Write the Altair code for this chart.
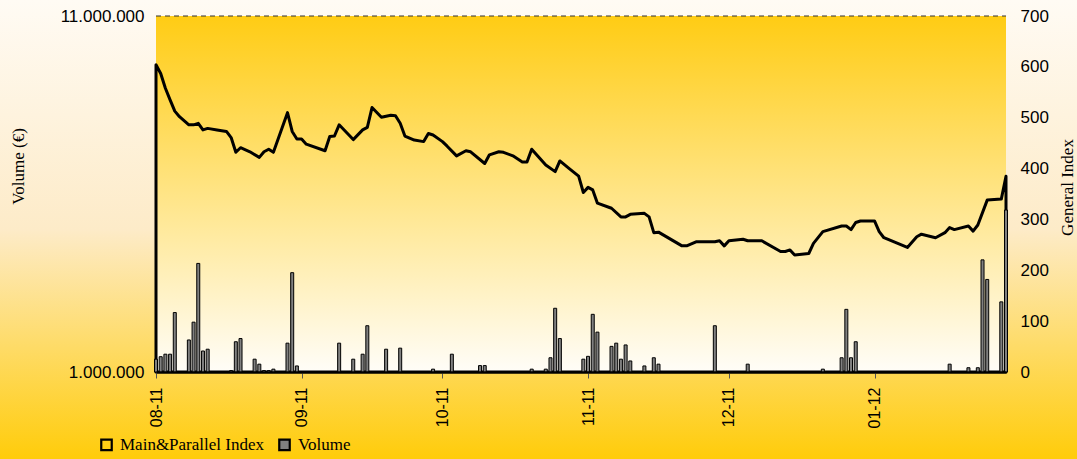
import altair as alt
import pandas as pd

# ---- data ----
index_dates = [
    "2011-08-01", "2011-08-02", "2011-08-03", "2011-08-04", "2011-08-05", "2011-08-06",
    "2011-08-08", "2011-08-09", "2011-08-10", "2011-08-11", "2011-08-12", "2011-08-14",
    "2011-08-16", "2011-08-17", "2011-08-18", "2011-08-19", "2011-08-21", "2011-08-23",
    "2011-08-24", "2011-08-25", "2011-08-26", "2011-08-29", "2011-08-30", "2011-08-31",
    "2011-09-01", "2011-09-02", "2011-09-06", "2011-09-07", "2011-09-08", "2011-09-09",
    "2011-09-12", "2011-09-14", "2011-09-15", "2011-09-16", "2011-09-18", "2011-09-20",
    "2011-09-21", "2011-09-22", "2011-09-23", "2011-09-25", "2011-09-27", "2011-09-28",
    "2011-09-29", "2011-10-01", "2011-10-02", "2011-10-04", "2011-10-06", "2011-10-07",
    "2011-10-10", "2011-10-11", "2011-10-13", "2011-10-14", "2011-10-16", "2011-10-18",
    "2011-10-19", "2011-10-20", "2011-10-23", "2011-10-25", "2011-10-26", "2011-10-28",
    "2011-10-30", "2011-10-31", "2011-11-01", "2011-11-02", "2011-11-03", "2011-11-06",
    "2011-11-08", "2011-11-09", "2011-11-10", "2011-11-13", "2011-11-14", "2011-11-15",
    "2011-11-16", "2011-11-21", "2011-11-22", "2011-11-24", "2011-11-28", "2011-11-29",
    "2011-11-30", "2011-12-01", "2011-12-04", "2011-12-05", "2011-12-08", "2011-12-12",
    "2011-12-13", "2011-12-14", "2011-12-15", "2011-12-18", "2011-12-19", "2011-12-21",
    "2011-12-25", "2011-12-26", "2011-12-27", "2011-12-28", "2011-12-29", "2012-01-01",
    "2012-01-02", "2012-01-03", "2012-01-08", "2012-01-10", "2012-01-11", "2012-01-14",
    "2012-01-16", "2012-01-17", "2012-01-18", "2012-01-21", "2012-01-22", "2012-01-23",
    "2012-01-25", "2012-01-28", "2012-01-29",
]
index_values = [
    604, 587, 558, 535, 513, 502,
    486, 486, 489, 476, 479, 476,
    473, 461, 432, 441, 433, 422,
    433, 438, 432, 510, 473, 458,
    458, 448, 435, 463, 464, 486,
    457, 476, 481, 520, 501, 505,
    504, 489, 464, 456, 453, 469,
    466, 453, 444, 425, 435, 433,
    410, 427, 433, 432, 425, 413,
    413, 438, 407, 394, 415, 400,
    385, 353, 363, 358, 332, 322,
    305, 305, 310, 312, 305, 274,
    275, 248, 248, 256, 256, 258,
    248, 258, 261, 258, 258, 237,
    237, 240, 230, 233, 253, 276,
    287, 287, 280, 294, 297, 297,
    276, 264, 245, 266, 271, 264,
    274, 284, 280, 287, 277, 289,
    338, 340, 385,
]

volume_dates = [
    "2011-08-01", "2011-08-02", "2011-08-03", "2011-08-04", "2011-08-05", "2011-08-08",
    "2011-08-09", "2011-08-10", "2011-08-11", "2011-08-12", "2011-08-17", "2011-08-18",
    "2011-08-19", "2011-08-22", "2011-08-23", "2011-08-24", "2011-08-25", "2011-08-26",
    "2011-08-29", "2011-08-30", "2011-08-31", "2011-09-09", "2011-09-12", "2011-09-14",
    "2011-09-15", "2011-09-19", "2011-09-22", "2011-09-29", "2011-10-03", "2011-10-09",
    "2011-10-10", "2011-10-20", "2011-10-23", "2011-10-24", "2011-10-25", "2011-10-26",
    "2011-10-31", "2011-11-01", "2011-11-02", "2011-11-03", "2011-11-06", "2011-11-07",
    "2011-11-08", "2011-11-09", "2011-11-10", "2011-11-13", "2011-11-15", "2011-11-16",
    "2011-11-28", "2011-12-05", "2011-12-21", "2011-12-25", "2011-12-26", "2011-12-27",
    "2011-12-28", "2012-01-17", "2012-01-21", "2012-01-23", "2012-01-24", "2012-01-25",
    "2012-01-28", "2012-01-29",
]
volume_values = [
    1360000, 1430000, 1500000, 1500000, 2670000, 1900000,
    2400000, 4050000, 1590000, 1640000, 1040000, 1850000,
    1940000, 1360000, 1220000, 1040000, 1040000, 1080000,
    1810000, 3790000, 1170000, 1810000, 1360000, 1500000,
    2300000, 1640000, 1670000, 1080000, 1500000, 1180000,
    1180000, 1080000, 1080000, 1400000, 2790000, 1940000,
    1360000, 1440000, 2620000, 2120000, 1720000, 1810000,
    1360000, 1760000, 1310000, 1170000, 1400000, 1220000,
    2300000, 1220000, 1080000, 1400000, 2760000, 1400000,
    1850000, 1220000, 1120000, 1120000, 4150000, 3600000,
    2970000, 5550000,
]

series_names = ["Main&Parallel Index", "Volume"]
month_ticks = ["2011-08-01", "2011-09-01", "2011-10-01", "2011-11-01", "2011-12-01", "2012-01-01"]
volume_ticks = [1000000, 11000000]
index_ticks = [0, 100, 200, 300, 400, 500, 600, 700]

idx_df = pd.DataFrame({"date": index_dates, "value": index_values, "series": series_names[0]})
vol_df = pd.DataFrame({"date": volume_dates, "volume": volume_values, "series": series_names[1]})

W, H = 850, 356
SANS = "Liberation Sans"
SERIF = "Liberation Serif"

x_scale = alt.Scale(
    type="utc", padding=0,
    domain=[alt.DateTime(year=2011, month=8, date=1, utc=True),
            alt.DateTime(year=2012, month=1, date=29, utc=True)],
)
x_axis = alt.Axis(
    values=[alt.DateTime(year=int(d[:4]), month=int(d[5:7]), date=1, utc=True) for d in month_ticks],
    labelExpr="utcFormat(datum.value, '%m-%y')",
    labelAngle=270, labelAlign="right", labelBaseline="middle",
    labelFont=SANS, labelFontSize=16, labelColor="black", labelPadding=9,
    domainColor="black", domainWidth=2, tickColor="#555555", tickSize=6, tickWidth=1,
    grid=False, title=None, zindex=1,
)
fill_scale = alt.Scale(domain=series_names, range=["transparent", "#808080"])
legend = alt.Legend(
    orient="none", legendX=-58, legendY=420, direction="horizontal", title=None,
    symbolType="square", symbolSize=110, symbolStrokeColor="black", symbolStrokeWidth=2.2,
    labelFont=SERIF, labelFontSize=17, labelColor="black", columnPadding=10, labelOffset=5,
)

dummy = pd.DataFrame({"k": [0]})
outer_bg = alt.Chart(dummy).mark_rect(
    color=alt.Gradient(gradient="linear", x1=0, x2=0, y1=0, y2=1,
                       stops=[alt.GradientStop(offset=0, color="#FFFBF4"),
                              alt.GradientStop(offset=0.5, color="#FDEBC8"),
                              alt.GradientStop(offset=1, color="#FFCC0A")])
).encode(x=alt.value(-156), x2=alt.value(W + 71), y=alt.value(-16), y2=alt.value(H + 87))

plot_bg = alt.Chart(dummy).mark_rect(
    color=alt.Gradient(gradient="linear", x1=0, x2=0, y1=0, y2=1,
                       stops=[alt.GradientStop(offset=0, color="#FFCC14"),
                              alt.GradientStop(offset=1, color="#FFFDF8")])
).encode(x=alt.value(0), x2=alt.value(W), y=alt.value(0), y2=alt.value(H))

top_rule = alt.Chart(dummy).mark_rule(color="#333333", strokeWidth=1, strokeDash=[5, 4]).encode(
    x=alt.value(0), x2=alt.value(W), y=alt.value(0)
)

bars = alt.Chart(vol_df).mark_bar(size=3, stroke="black", strokeWidth=1).encode(
    x=alt.X("date:T", scale=x_scale, axis=x_axis),
    y=alt.Y("volume:Q", scale=alt.Scale(domain=[1000000, 11000000], zero=False, nice=False),
            axis=alt.Axis(orient="left", values=volume_ticks, zindex=1,
                          labelExpr="replace(format(datum.value, ','), /,/g, '.')",
                          labelFont=SANS, labelFontSize=17, labelColor="black", labelPadding=12,
                          ticks=False, domain=False, grid=False,
                          title="Volume (€)", titleFont=SERIF, titleFontSize=17,
                          titleFontWeight="normal", titleColor="black", titlePadding=33,
                          titleY=150)),
    y2=alt.datum(1000000),
    fill=alt.Fill("series:N", scale=fill_scale, legend=legend),
)

area = alt.Chart(idx_df).mark_area(stroke="black", strokeWidth=3, strokeJoin="round").encode(
    x=alt.X("date:T", scale=x_scale, axis=x_axis),
    y=alt.Y("value:Q", scale=alt.Scale(domain=[0, 700], nice=False),
            axis=alt.Axis(orient="right", values=index_ticks, zindex=1,
                          labelFont=SANS, labelFontSize=17, labelColor="black", labelPadding=14,
                          ticks=False, domain=False, grid=False,
                          title="General Index", titleFont=SERIF, titleFontSize=17,
                          titleFontWeight="normal", titleColor="black", titleAngle=270,
                          titlePadding=28, titleY=171)),
    fill=alt.Fill("series:N", scale=fill_scale, legend=legend),
)

chart = alt.layer(outer_bg, plot_bg, top_rule, area, bars).resolve_scale(
    y="independent"
).properties(
    width=W, height=H,
    autosize=alt.AutoSizeParams(type="none"),
    padding={"left": 156, "top": 16, "right": 71, "bottom": 87},
).configure_view(stroke=None)

chart.save("out.html", embed_options={"renderer": "svg", "actions": False})
